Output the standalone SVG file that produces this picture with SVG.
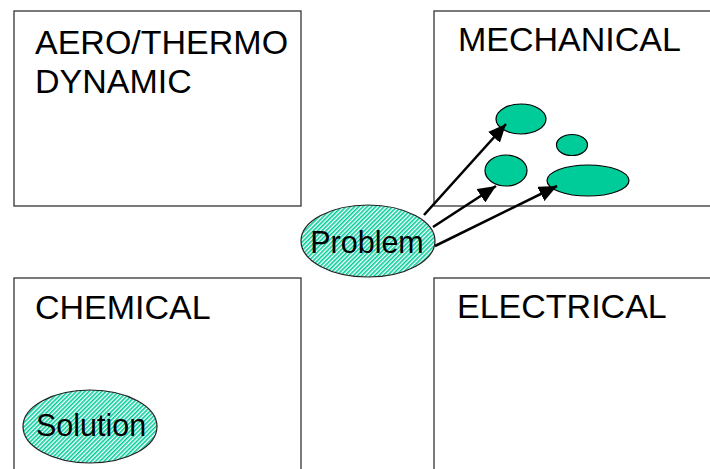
<svg xmlns="http://www.w3.org/2000/svg" width="710" height="469" viewBox="0 0 710 469">
<defs>
<pattern id="hatch" width="3" height="3" patternUnits="userSpaceOnUse" patternTransform="rotate(45)">
<rect x="0" y="0" width="3" height="3" fill="#ffffff"/>
<rect x="0" y="0" width="1.6" height="3" fill="#00CC99"/>
</pattern>
<marker id="arr" markerUnits="userSpaceOnUse" markerWidth="20" markerHeight="16" refX="18" refY="8" orient="auto">
<path d="M0,0 L18,8 L0,16 Z" fill="#000"/>
</marker>
</defs>
<style>
.box{fill:#fff;stroke:#333;stroke-width:1.3}
.lbl{font-family:"Liberation Sans",Arial,sans-serif;font-size:34px;fill:#000}
.oval{fill:url(#hatch);stroke:#222;stroke-width:1.2}
.olbl{font-family:"Liberation Sans",Arial,sans-serif;font-size:30.5px;fill:#000;text-anchor:middle}
.blob{fill:#00CC99;stroke:#000;stroke-width:1.2}
.conn{stroke:#000;stroke-width:2.6;fill:none}
</style>
<rect width="710" height="469" fill="#fff"/>
<g id="aero">
<rect class="box" x="14" y="11" width="287" height="195"/>
<text class="lbl" x="35" y="54">AERO/THERMO</text>
<text class="lbl" x="35" y="93">DYNAMIC</text>
</g>
<g id="mechanical">
<rect class="box" x="434" y="11" width="300" height="195"/>
<text class="lbl" x="458" y="51">MECHANICAL</text>
<ellipse class="blob" cx="521" cy="119" rx="25" ry="15"/>
<ellipse class="blob" cx="572" cy="145" rx="15.5" ry="10.5"/>
<ellipse class="blob" cx="506" cy="170.5" rx="21" ry="15.5"/>
<ellipse class="blob" cx="588" cy="180.5" rx="41" ry="15.5"/>
</g>
<g id="chemical">
<rect class="box" x="14" y="278" width="287" height="220"/>
<text class="lbl" x="35" y="319">CHEMICAL</text>
</g>
<g id="electrical">
<rect class="box" x="434" y="278" width="300" height="220"/>
<text class="lbl" x="457" y="318">ELECTRICAL</text>
</g>
<g id="problem">
<ellipse class="oval" cx="368" cy="241" rx="67" ry="36"/>
<text class="olbl" x="367" y="253">Problem</text>
</g>
<g id="solution">
<ellipse class="oval" cx="90" cy="426.5" rx="67" ry="36.5"/>
<text class="olbl" x="91" y="436">Solution</text>
</g>
<g id="connectors">
<line class="conn" x1="424" y1="215" x2="506" y2="124" marker-end="url(#arr)"/>
<line class="conn" x1="433" y1="227" x2="496" y2="186" marker-end="url(#arr)"/>
<line class="conn" x1="435" y1="246" x2="557" y2="186" marker-end="url(#arr)"/>
</g>
</svg>
